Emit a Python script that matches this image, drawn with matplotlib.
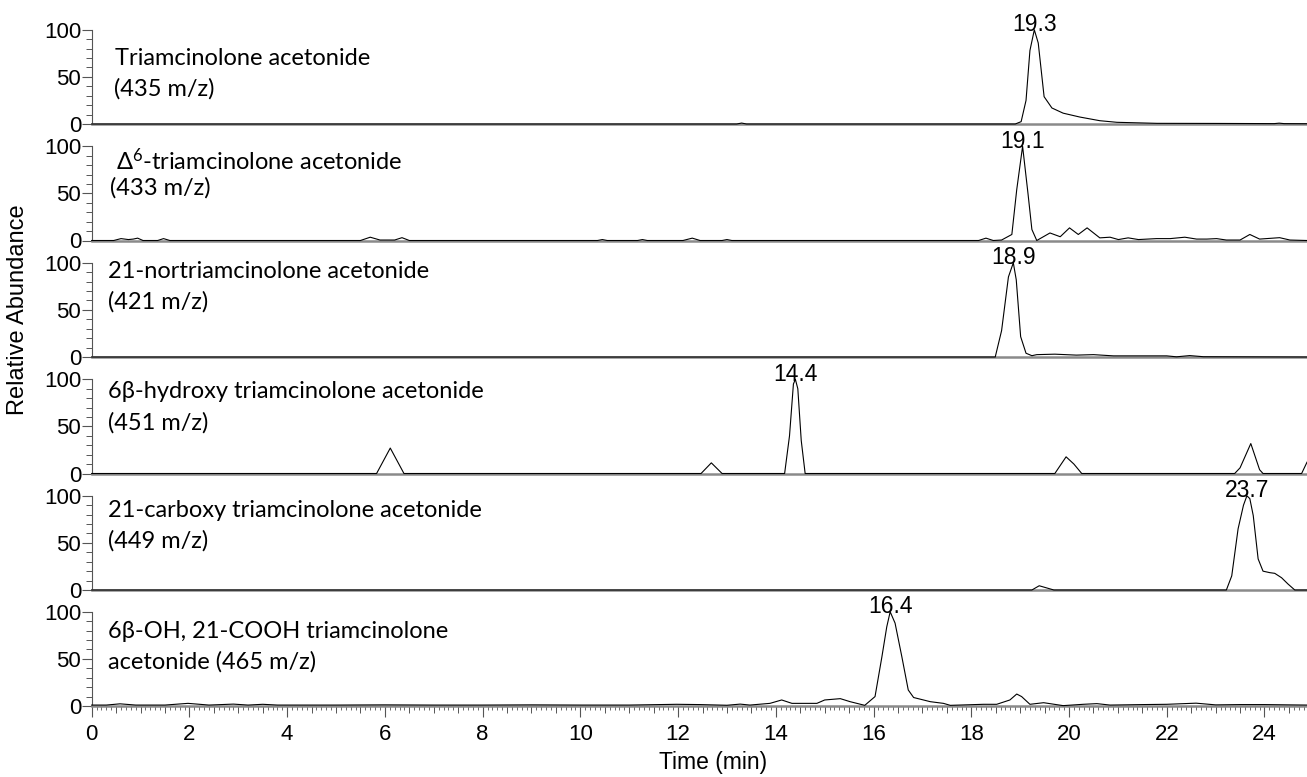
import numpy as np
import matplotlib
matplotlib.use('Agg')
import matplotlib.pyplot as plt
from matplotlib.ticker import MultipleLocator, FixedLocator, NullFormatter

plt.rcParams['font.family'] = ['Liberation Sans', 'DejaVu Sans']
plt.rcParams['mathtext.default'] = 'regular'

# ---- data (time in min, relative abundance in %) ----
t1 = [0, 13.2, 13.3, 13.4, 18.9, 19.02, 19.12, 19.2, 19.29, 19.37, 19.49, 19.65, 19.88,
      20.22, 20.63, 20.98, 21.8, 23.0, 24.2, 24.3, 24.4, 24.87]
v1 = [0, 0, 1, 0, 0, 2.5, 25, 78, 100, 86, 29, 17, 11.5,
      7.4, 3.5, 1.8, 0.7, 0.6, 0.4, 0.9, 0.4, 0.3]

t2 = [0, 0.45, 0.6, 0.75, 0.85, 0.94, 1.05, 1.35, 1.47, 1.6, 5.5, 5.7, 5.9, 6.2, 6.35, 6.5,
      10.35, 10.45, 10.55, 11.17, 11.27, 11.37, 12.1, 12.29, 12.45, 12.9, 13.0, 13.1,
      18.15, 18.3, 18.45, 18.62, 18.83, 18.93, 19.05, 19.16, 19.24, 19.34, 19.61, 19.82,
      20.01, 20.19, 20.37, 20.63, 20.84, 21.01, 21.21, 21.42, 21.79, 22.07, 22.37, 22.61,
      22.82, 23.02, 23.22, 23.5, 23.7, 23.9, 24.31, 24.52, 24.87]
v2 = [0, 0, 2, 1, 1.5, 2.5, 0, 0, 2, 0, 0, 3.5, 0.5, 0.5, 3, 0,
      0, 1, 0, 0, 1, 0, 0, 2.5, 0, 0, 1, 0,
      0, 2.5, 0, 0.5, 6.4, 54, 100, 50, 11.7, 0, 8, 4,
      13.4, 6.4, 13.4, 2.8, 3.5, 1, 2.8, 1, 2, 2, 3.5, 1.5,
      1.5, 2, 0.5, 0.5, 6.4, 1.5, 3, 0.5, 0]

t3 = [0, 18.49, 18.62, 18.76, 18.86, 18.92, 19.01, 19.12, 19.24, 19.34, 19.71, 20.15,
      20.5, 20.91, 22.0, 22.2, 22.47, 22.75, 24.87]
v3 = [0, 0, 28, 85, 100, 82, 21.6, 4, 1.4, 2.5, 3, 2,
      2.5, 1.2, 1.2, 0.2, 1.5, 0.3, 0]

t4 = [0, 5.83, 6.11, 6.39, 12.47, 12.68, 12.9, 14.18, 14.28, 14.36, 14.4, 14.45, 14.52,
      14.6, 19.71, 19.94, 20.1, 20.26, 23.39, 23.5, 23.72, 23.9, 23.97, 24.76, 24.87]
v4 = [0, 0, 27, 0, 0, 11.3, 0, 0, 40, 95, 100, 90, 35,
      0, 0, 17.7, 10, 0, 0, 6, 31.8, 4, 0, 0, 12]

t5 = [0, 19.24, 19.39, 19.69, 23.22, 23.33, 23.46, 23.57, 23.64, 23.7, 23.77, 23.87,
      23.97, 24.11, 24.21, 24.35, 24.48, 24.62, 24.87]
v5 = [0, 0, 4.5, 0, 0, 15, 65, 90, 100, 97, 79, 33,
      20, 18.4, 17.7, 13, 6.4, 0, 0]

t6 = [0, 0.3, 0.58, 0.9, 1.5, 1.97, 2.4, 2.9, 3.2, 3.5, 3.8, 5, 6, 7, 8, 9, 10, 11,
      11.97, 12.45, 13.0, 13.27, 13.47, 13.88, 14.12, 14.33, 14.84, 15.0, 15.32, 15.52,
      15.82, 16.03, 16.17, 16.27, 16.34, 16.44, 16.58, 16.71, 16.82, 17.16, 17.43, 17.57,
      18.25, 18.52, 18.79, 18.93, 19.03, 19.2, 19.48, 19.88, 20.29, 20.57, 20.84, 21.5,
      22.0, 22.6, 23.0, 23.5, 24.0, 24.5, 24.87]
v6 = [1, 1, 2.3, 1, 1, 2.8, 1, 2, 1, 1.8, 1, 1, 1.2, 1, 1, 1.2, 1, 1,
      1.8, 1.5, 0.8, 2, 1, 2.8, 6.4, 2.8, 2.8, 6.4, 7.8, 4.6,
      0.7, 10, 52, 84, 100, 88, 52, 17, 9, 4.6, 2.8, 0.7,
      1.8, 1.8, 6.4, 12.7, 10, 1.8, 3.5, 0.4, 1.8, 2.5, 1, 1.5,
      1.8, 3, 1.2, 1.5, 1.5, 1.2, 1]

times = [t1, t2, t3, t4, t5, t6]
values = [v1, v2, v3, v4, v5, v6]

line1 = ['Triamcinolone acetonide', 'Δ$^{6}$-triamcinolone acetonide',
         '21-nortriamcinolone acetonide', '6β-hydroxy triamcinolone acetonide',
         '21-carboxy triamcinolone acetonide', '6β-OH, 21-COOH triamcinolone']
line2 = ['(435 m/z)', '(433 m/z)', '(421 m/z)', '(451 m/z)', '(449 m/z)',
         'acetonide (465 m/z)']

peak_labels = ['19.3', '19.1', '18.9', '14.4', '23.7', '16.4']
peak_times = [19.29, 19.05, 18.86, 14.4, 23.64, 16.34]

# ---- layout (pixel based, figure is 1307 x 777) ----
W, H = 1307, 777
fig = plt.figure(figsize=(W / 100, H / 100), dpi=100)
left_px = 91.7
zero_px = [124, 240.5, 357, 473.5, 590, 706]   # y pixel of zero line of each panel
panel_h = 116.4
unit_px = 0.942                                   # pixels per % abundance
ytop = panel_h / unit_px

# text positions in data units: (x, y baseline)
pos1 = [(0.48, 62.6), (0.5, 75.4), (0.33, 83.5), (0.33, 80.4), (0.33, 77.2), (0.33, 71.7)]
pos2 = [(0.46, 30.5), (0.37, 49), (0.33, 51), (0.33, 46.7), (0.33, 44.6), (0.33, 39.3)]

label_font = ['Lato', 'Open Sans', 'DejaVu Sans']
gray = '#8a8a8a'
tick_col = '#555555'

for i in range(6):
    ax = fig.add_axes([left_px / W, (H - zero_px[i]) / H, 1 - left_px / W, panel_h / H])
    ax.set_facecolor('none')
    ax.plot(times[i], values[i], color='black', lw=0.8, zorder=3, clip_on=False)
    ax.set_xlim(0, 24.87)
    ax.set_ylim(0, ytop)

    for s in ['top', 'right']:
        ax.spines[s].set_visible(False)
    ax.spines['left'].set_bounds(0, 100)
    ax.spines['left'].set_color(tick_col)
    ax.spines['left'].set_linewidth(0.8)
    ax.spines['bottom'].set_color(gray)
    ax.spines['bottom'].set_linewidth(1.8)

    ax.yaxis.set_major_locator(FixedLocator([0, 50, 100]))
    ax.yaxis.set_minor_locator(FixedLocator(list(range(0, 101, 10))))
    ax.tick_params(axis='y', which='major', length=7, width=0.8, color=tick_col,
                   labelsize=16, pad=0.5)
    ax.tick_params(axis='y', which='minor', length=4, width=0.7, color=tick_col)

    if i < 5:
        ax.set_xticks([])
    else:
        ax.xaxis.set_major_locator(MultipleLocator(2))
        ax.xaxis.set_minor_locator(MultipleLocator(0.1))
        ax.tick_params(axis='x', which='major', length=8, width=0.8, color=tick_col,
                       labelsize=16, pad=5)
        ax.tick_params(axis='x', which='minor', length=3, width=0.6, color=tick_col)
        sec = ax.secondary_xaxis('bottom')
        sec.xaxis.set_major_locator(MultipleLocator(0.5))
        sec.xaxis.set_major_formatter(NullFormatter())
        sec.tick_params(axis='x', length=5, width=0.7, color=tick_col)
        sec.spines['bottom'].set_visible(False)
        ax.set_xlabel('Time (min)', fontsize=16.5)
        ax.xaxis.set_label_coords(0.511, -0.39)

    ax.text(pos1[i][0], pos1[i][1], line1[i], family=label_font, fontsize=17,
            va='baseline', ha='left')
    ax.text(pos2[i][0], pos2[i][1], line2[i], family=label_font, fontsize=17,
            va='baseline', ha='left')
    ax.text(peak_times[i], 98.5, peak_labels[i], fontsize=16.5, ha='center', va='baseline')

fig.text(0.014, 1 - 310 / H, 'Relative Abundance', rotation=90, fontsize=17,
         ha='center', va='center')

fig.savefig('out.png', dpi=100, facecolor='white')
